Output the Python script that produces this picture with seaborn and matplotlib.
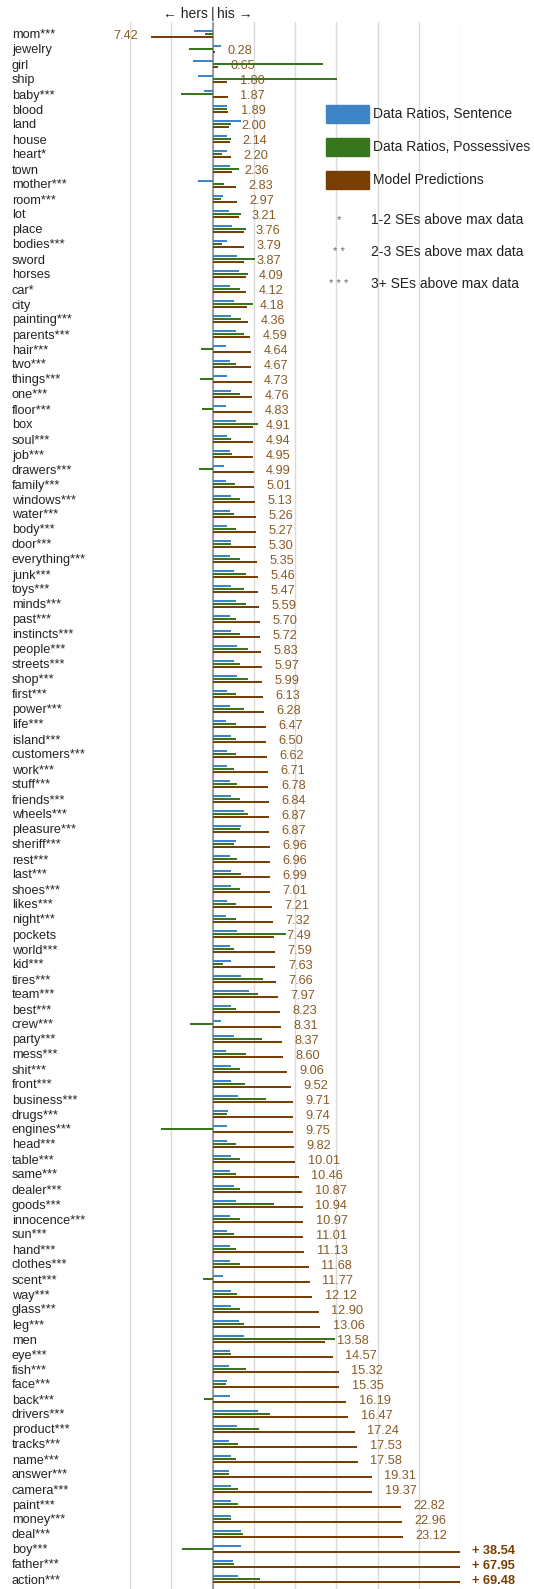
import numpy as np
import pandas as pd
import matplotlib
matplotlib.use("Agg")
import matplotlib.pyplot as plt
from matplotlib.patches import Rectangle
import seaborn as sns

words = [
    "mom***", "jewelry", "girl", "ship", "baby***", "blood", "land", "house",
    "heart*", "town", "mother***", "room***", "lot", "place", "bodies***",
    "sword", "horses", "car*", "city", "painting***", "parents***", "hair***",
    "two***", "things***", "one***", "floor***", "box", "soul***", "job***",
    "drawers***", "family***", "windows***", "water***", "body***", "door***",
    "everything***", "junk***", "toys***", "minds***", "past***", "instincts***",
    "people***", "streets***", "shop***", "first***", "power***", "life***",
    "island***", "customers***", "work***", "stuff***", "friends***", "wheels***",
    "pleasure***", "sheriff***", "rest***", "last***", "shoes***", "likes***",
    "night***", "pockets", "world***", "kid***", "tires***", "team***", "best***",
    "crew***", "party***", "mess***", "shit***", "front***", "business***",
    "drugs***", "engines***", "head***", "table***", "same***", "dealer***",
    "goods***", "innocence***", "sun***", "hand***", "clothes***", "scent***",
    "way***", "glass***", "leg***", "men", "eye***", "fish***", "face***",
    "back***", "drivers***", "product***", "tracks***", "name***", "answer***",
    "camera***", "paint***", "money***", "deal***", "boy***", "father***",
    "action***",
]

# data ratios, sentence level (negative = hers)
sentence = [
    -2.3, 1.0, -2.4, -1.7, -1.05, 1.8, 3.5, 1.7, 1.8, 2.1, -1.7, 1.3, 2.0, 2.4,
    1.8, 3.0, 3.2, 2.1, 2.6, 2.3, 2.8, 1.6, 2.1, 1.8, 2.3, 1.6, 2.9, 1.8, 2.1,
    1.4, 1.6, 2.3, 2.1, 1.8, 2.3, 2.1, 2.6, 2.3, 2.8, 2.1, 2.3, 3.0, 2.6, 3.0,
    1.8, 2.1, 1.6, 2.3, 1.8, 1.8, 2.1, 2.3, 3.8, 3.5, 2.8, 2.1, 2.3, 2.3, 1.8,
    1.6, 3.0, 2.1, 2.3, 3.5, 4.4, 2.3, 1.0, 2.6, 1.6, 2.2, 2.3, 3.1, 1.85, 1.7,
    1.8, 2.3, 2.1, 2.6, 2.8, 2.1, 1.8, 2.1, 2.1, 1.3, 2.3, 2.3, 3.2, 3.8, 2.1,
    2.0, 1.8, 2.1, 5.5, 3.0, 2.0, 2.2, 2.0, 2.2, 2.3, 2.2, 3.4, 3.4, 2.5, 3.1,
]

# data ratios, possessives
possessives = [
    -0.9, -2.9, 13.4, 15.1, -3.8, 1.7, 2.2, 2.3, 1.2, 3.2, 1.4, 1.05, 3.5, 4.1,
    1.2, 5.2, 4.3, 3.3, 4.9, 3.4, 3.8, -1.4, 2.8, -1.5, 3.3, -1.25, 5.5, 2.2,
    2.4, -1.6, 2.7, 3.3, 2.6, 2.8, 2.3, 3.3, 4.0, 3.8, 4.0, 2.9, 3.3, 4.3, 3.3,
    4.3, 2.8, 3.8, 2.8, 2.8, 2.8, 2.6, 3.0, 3.3, 4.3, 3.3, 2.6, 3.0, 3.5, 3.3,
    2.8, 2.8, 8.9, 2.6, 1.25, 6.1, 5.5, 2.8, -2.75, 6.0, 4.1, 3.3, 3.9, 6.5,
    1.7, -6.2, 2.8, 3.3, 2.8, 3.3, 7.5, 3.3, 2.6, 2.8, 3.3, -1.1, 3.0, 3.3,
    3.8, 14.9, 2.2, 4.0, 1.6, -1.05, 7.0, 5.6, 3.1, 2.9, 2.0, 3.05, 3.1, 2.3,
    3.7, -3.7, 2.6, 5.7,
]

# model predictions
model = [
    -7.42, 0.28, 0.65, 1.80, 1.87, 1.89, 2.00, 2.14, 2.20, 2.36, 2.83, 2.97,
    3.21, 3.76, 3.79, 3.87, 4.09, 4.12, 4.18, 4.36, 4.59, 4.64, 4.67, 4.73,
    4.76, 4.83, 4.91, 4.94, 4.95, 4.99, 5.01, 5.13, 5.26, 5.27, 5.30, 5.35,
    5.46, 5.47, 5.59, 5.70, 5.72, 5.83, 5.97, 5.99, 6.13, 6.28, 6.47, 6.50,
    6.62, 6.71, 6.78, 6.84, 6.87, 6.87, 6.96, 6.96, 6.99, 7.01, 7.21, 7.32,
    7.49, 7.59, 7.63, 7.66, 7.97, 8.23, 8.31, 8.37, 8.60, 9.06, 9.52, 9.71,
    9.74, 9.75, 9.82, 10.01, 10.46, 10.87, 10.94, 10.97, 11.01, 11.13, 11.68,
    11.77, 12.12, 12.90, 13.06, 13.58, 14.57, 15.32, 15.35, 16.19, 16.47,
    17.24, 17.53, 17.58, 19.31, 19.37, 22.82, 22.96, 23.12, 38.54, 67.95,
    69.48,
]

series = ["Data Ratios, Sentence", "Data Ratios, Possessives", "Model Predictions"]
colors = ["#3d85c6", "#38761d", "#783f04"]
star_notes = [("*", "1-2 SEs above max data"), ("* *", "2-3 SEs above max data"),
              ("* * *", "3+ SEs above max data")]
XMIN, XMAX = -10, 30

sns.set_style("white")
plt.rcParams["font.family"] = ["Liberation Sans", "DejaVu Sans"]

W, H = 534, 1589
ROW = 15.0  # px per category
fig = plt.figure(figsize=(W / 100, H / 100), dpi=100)
ax = fig.add_axes([130 / W, 0, 330 / W, 1 - 22 / H])

df = pd.DataFrame({
    "word": words * 3,
    "series": np.repeat(series, len(words)),
    "value": sentence + possessives + model,
})
sns.barplot(data=df, x="value", y="word", hue="series", hue_order=series,
            palette=colors, saturation=1, orient="h", width=0.6, gap=0.25,
            errorbar=None, legend=False, linewidth=0, ax=ax)

ax.set_xlim(XMIN, XMAX)
ax.set_ylim((H - 34) / ROW, -12 / ROW)
ax.set_xticks(range(XMIN, XMAX + 1, 5))
ax.set_xticklabels([])
ax.set_xlabel("")
ax.set_ylabel("")
ax.set_axisbelow(True)
ax.grid(axis="x", color="#dadada", lw=1)
ax.axvline(0, color="#8a8f96", lw=1.2, zorder=0.9)
for s in ax.spines.values():
    s.set_visible(False)

ax.tick_params(axis="y", length=0, pad=118 * 0.72, labelsize=9.2, labelcolor="#222222")
for lbl in ax.get_yticklabels():
    lbl.set_horizontalalignment("left")
ax.tick_params(axis="x", length=0)

# value labels for model predictions
for i, v in enumerate(model):
    y = i + 0.14
    if v > XMAX:
        ax.annotate(f"+ {v:.2f}", xy=(XMAX, y), xytext=(8.6, 0),
                    textcoords="offset points", va="center", ha="left",
                    fontsize=9.2, fontweight="bold", color="#783f04",
                    annotation_clip=False, zorder=0.8)
    elif v < 0:
        ax.annotate(f"{-v:.2f}", xy=(v, y), xytext=(-9.4, 0),
                    textcoords="offset points", va="center", ha="right",
                    fontsize=9.2, color="#8a5a24", annotation_clip=False, zorder=0.8)
    else:
        ax.annotate(f"{v:.2f}", xy=(v, y), xytext=(9, 0),
                    textcoords="offset points", va="center", ha="left",
                    fontsize=9.2, color="#8a5a24", annotation_clip=False, zorder=0.8)

# header
hkw = dict(xycoords=("data", "axes fraction"), textcoords="offset points",
           va="center", fontsize=10, color="#222222", annotation_clip=False)
ax.annotate("|", xy=(0, 1), xytext=(0, 5.8), ha="center", **hkw)
ax.annotate("\u2190 hers", xy=(0, 1), xytext=(-3.5, 5.8), ha="right", **hkw)
ax.annotate("his \u2192", xy=(0, 1), xytext=(3.5, 5.8), ha="left", **hkw)

# legend
def fx(x):
    return x / W


def fy(y):
    return 1 - y / H


for k, (name, col) in enumerate(zip(series, colors)):
    yc = 114 + 33 * k
    fig.patches.append(Rectangle((fx(326), fy(yc + 9)), 43 / W, 18 / H,
                                 transform=fig.transFigure, color=col))
    fig.text(fx(373), fy(yc), name, va="center", ha="left", fontsize=10,
             color="#222222")
for k, (stars, note) in enumerate(star_notes):
    yc = 220 + 32 * k
    fig.text(fx(339), fy(yc), stars, va="center", ha="center", fontsize=8,
             color="#666666")
    fig.text(fx(371), fy(yc), note, va="center", ha="left", fontsize=10,
             color="#222222")

fig.savefig("out.png", dpi=100)
